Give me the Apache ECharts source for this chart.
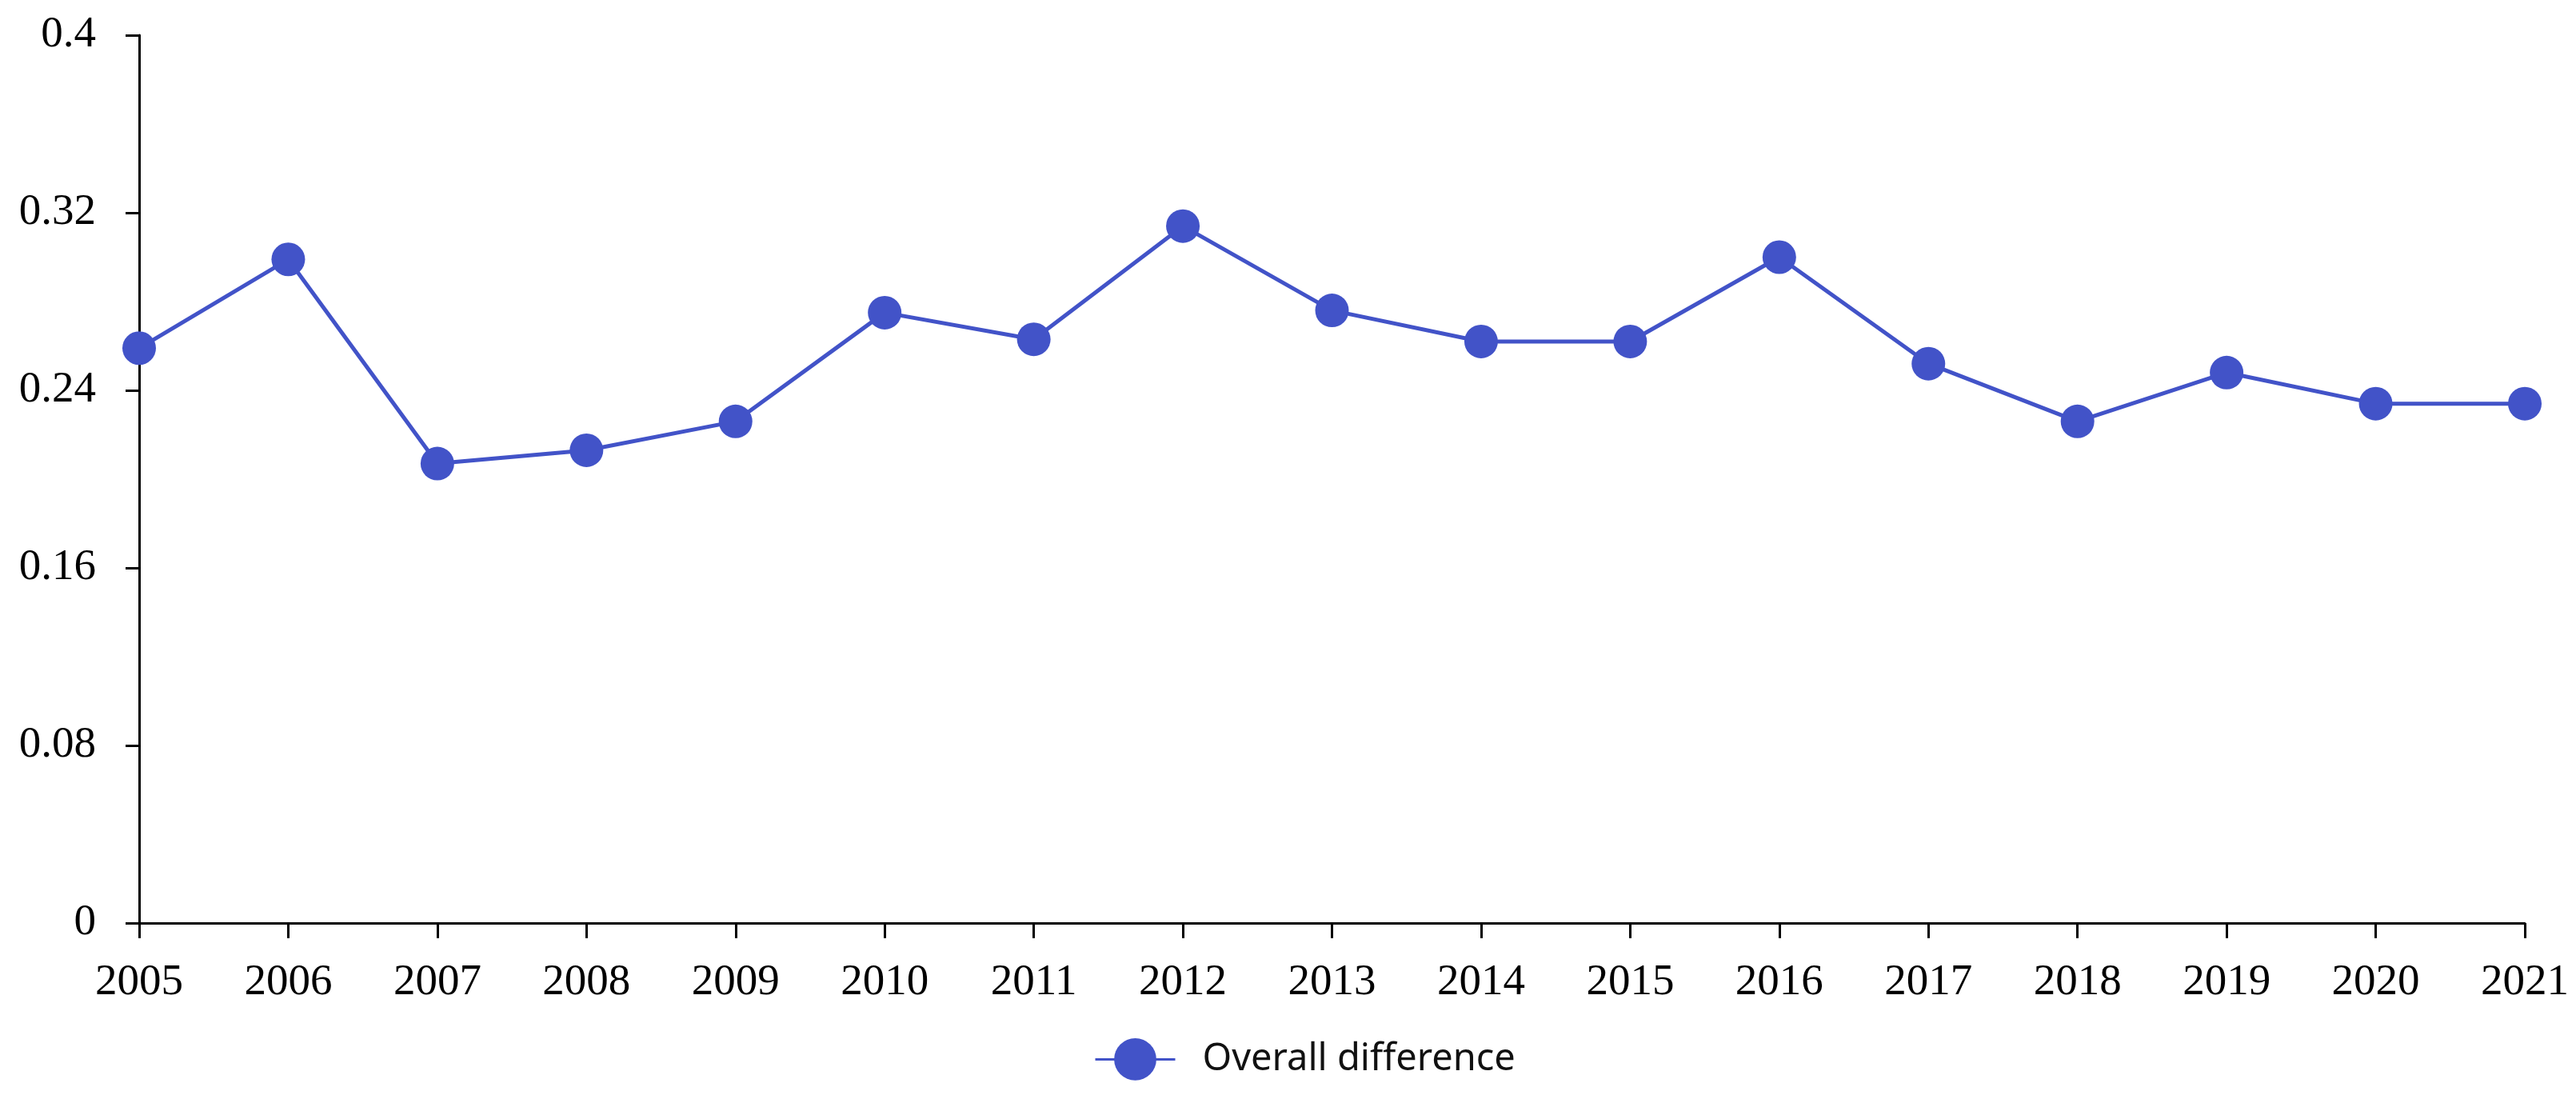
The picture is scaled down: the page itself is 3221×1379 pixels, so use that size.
<!DOCTYPE html>
<html><head><meta charset="utf-8">
<script src="https://cdn.jsdelivr.net/npm/echarts@6/dist/echarts.min.js"></script>
<style>html,body{margin:0;padding:0;background:#fff;}#c{width:3221px;height:1379px;}</style>
</head><body><div id="c"></div>
<script>
const years = ['2005','2006','2007','2008','2009','2010','2011','2012','2013','2014','2015','2016','2017','2018','2019','2020','2021'];
const overallDifference = [0.259,0.299,0.207,0.213,0.226,0.275,0.263,0.314,0.276,0.262,0.262,0.300,0.252,0.226,0.248,0.234,0.234];
const seriesName = 'Overall difference';
const yMin = 0, yMax = 0.4, yInterval = 0.08;

const chart = echarts.init(document.getElementById('c'), null, {renderer:'canvas'});
const color = '#4253c8';
chart.setOption({
  animation:false,
  backgroundColor:'#fff',
  grid:{left:174, right:64, top:44, bottom:225, containLabel:false},
  legend:{
    data:[seriesName],
    top:1293, left:1363,
    itemWidth:100, itemHeight:66,
    lineStyle:{width:3},
    textStyle:{fontFamily:'Noto Sans', fontSize:47, color:'#111', padding:[0,0,0,29]}
  },
  xAxis:{
    type:'category', data:years, boundaryGap:false,
    axisLine:{lineStyle:{color:'#000', width:3}},
    axisTick:{alignWithLabel:true, length:19, lineStyle:{color:'#000', width:3}},
    axisLabel:{fontFamily:'Liberation Serif', fontSize:55, color:'#000', margin:47}
  },
  yAxis:{
    type:'value', min:yMin, max:yMax, interval:yInterval,
    axisLine:{show:true, lineStyle:{color:'#000', width:3}},
    axisTick:{show:true, length:17, lineStyle:{color:'#000', width:3}},
    splitLine:{show:false},
    axisLabel:{fontFamily:'Liberation Serif', fontSize:55, color:'#000', margin:54,
      formatter:v=>String(Math.round(v*100)/100)}
  },
  series:[{
    name:seriesName, type:'line', data:overallDifference,
    symbol:'circle', symbolSize:42,
    itemStyle:{color:color},
    lineStyle:{color:color, width:5}
  }]
});
</script></body></html>
